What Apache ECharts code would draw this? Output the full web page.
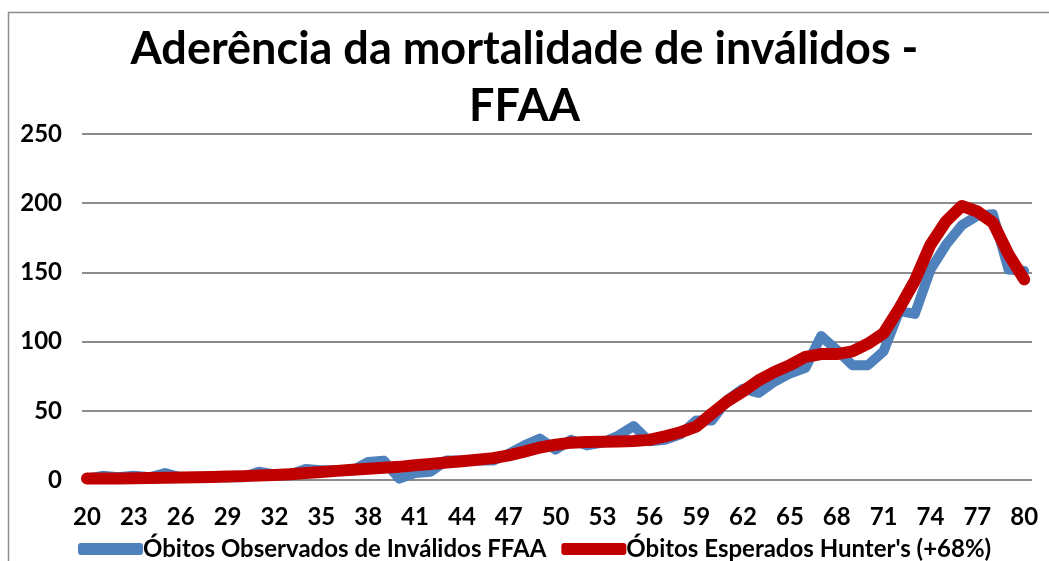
<!DOCTYPE html>
<html>
<head>
<meta charset="utf-8">
<script src="https://cdn.jsdelivr.net/npm/echarts@6/dist/echarts.min.js"></script>
<style>
html,body{margin:0;padding:0;background:#fff;}
#chart{width:1049px;height:561px;}
</style>
</head>
<body>
<div id="chart"></div>
<script>
const ages = [20,21,22,23,24,25,26,27,28,29,30,31,32,33,34,35,36,37,38,39,40,41,42,43,44,45,46,47,48,49,50,51,52,53,54,55,56,57,58,59,60,61,62,63,64,65,66,67,68,69,70,71,72,73,74,75,76,77,78,79,80];
const observed = [1,3,2,3,2,5,2,2,2,2,2,6,4,4,8,7,7,7,13,14,1,5,6,14,14,14,14,19,25,30,22,29,25,27,32,39,28,29,33,43,43,58,66,63,71,77,81,104,94,83,83,93,122,120,152,170,184,191,192,152,151];
const expected = [1,1,1,1.2,1.4,1.6,1.8,2,2.2,2.5,2.8,3.2,3.6,4.2,5,5.8,6.6,7.4,8.2,8.8,9.5,10.6,11.6,12.6,13.6,14.6,15.8,17.8,20.5,23.5,25.5,27,27.5,27.6,27.8,28.2,29,31.5,34.5,38.5,48,57,64,72,78,83,89,91,91,93,98.5,106,124,144,170,187,198,194,186,163,145];
const xTicks = [20,23,26,29,32,35,38,41,44,47,50,53,56,59,62,65,68,71,74,77,80];
const yTicks = [0,50,100,150,200,250];
const seriesNames = ["Óbitos Observados de Inválidos FFAA","Óbitos Esperados Hunter's (+68%)"];
const titleText = "Aderência da mortalidade de inválidos -\nFFAA";

const font = "Lato, 'Open Sans', sans-serif";
const chart = echarts.init(document.getElementById('chart'), null, {renderer:'canvas'});
chart.setOption({
  animation:false,
  backgroundColor:'#fff',
  graphic:[{type:'rect',shape:{x:8.5,y:12.5,width:1200,height:700},style:{fill:'none',stroke:'#8c8c8c',lineWidth:1.5},silent:true}],
  title:{
    text:titleText,left:'center',top:16,
    textStyle:{fontFamily:font,fontWeight:'bold',fontSize:45,lineHeight:57,color:'#000'}
  },
  legend:{
    left:73,top:532,itemWidth:65,itemHeight:12,itemGap:15,icon:'roundRect',
    textStyle:{fontFamily:font,fontWeight:'bold',fontSize:24,color:'#000',padding:[0,0,0,-5]},
    data:seriesNames
  },
  grid:{left:82,right:17,top:134,bottom:81,containLabel:false},
  xAxis:{
    type:'value',min:19.68,max:80.5,
    axisLine:{show:false},axisTick:{show:false},splitLine:{show:false},
    axisLabel:{customValues:xTicks,fontFamily:font,fontWeight:'bold',fontSize:24,color:'#000',margin:25}
  },
  yAxis:{
    type:'value',min:0,max:250,interval:50,
    axisLine:{show:false},axisTick:{show:false},
    splitLine:{lineStyle:{color:'#8c8c8c',width:2}},
    axisLabel:{fontFamily:font,fontWeight:'bold',fontSize:24,color:'#000',margin:20}
  },
  series:[
    {name:seriesNames[0],type:'line',data:ages.map((a,i)=>[a,observed[i]]),showSymbol:false,
     lineStyle:{color:'#4F81BD',width:10,join:'round',cap:'round'},itemStyle:{color:'#4F81BD'}},
    {name:seriesNames[1],type:'line',data:ages.map((a,i)=>[a,expected[i]]),showSymbol:false,
     lineStyle:{color:'#C00000',width:12,join:'round',cap:'round'},itemStyle:{color:'#C00000'}}
  ]
});
</script>
</body>
</html>
